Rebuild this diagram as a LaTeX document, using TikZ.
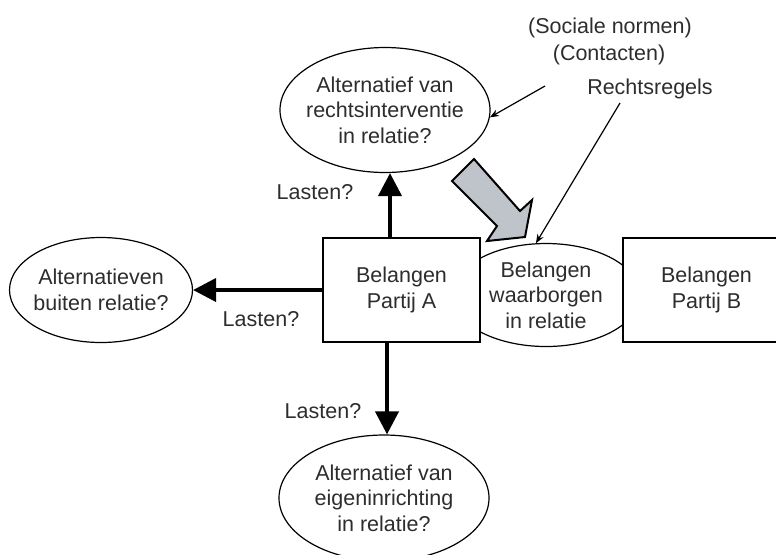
\documentclass[tikz,border=0pt]{standalone}
\usepackage{fontspec}
\setmainfont{Liberation Sans}
\usetikzlibrary{arrows.meta,shapes.geometric}
\definecolor{pijlgrijs}{RGB}{191,195,202}
\definecolor{tekstgrijs}{RGB}{45,45,45}

\begin{document}
\begin{tikzpicture}[x=0.5pt,y=-0.5pt,
  every node/.style={font=\fontsize{10.75}{12.75}\selectfont,text=tekstgrijs,align=center},
  bubble/.style={ellipse,draw,fill=white,line width=0.6pt,inner xsep=-5pt,inner ysep=0pt},
  box/.style={rectangle,draw,fill=white,line width=0.6pt,minimum height=52pt},
  heavy/.style={line width=2pt,-{Triangle[length=11.5pt,width=11.5pt]}},
  pointer/.style={line width=0.6pt,-{Stealth[length=4.5pt,width=3.5pt]}}]
\useasboundingbox (0,0) rectangle (776,554);

\node[bubble,minimum width=105pt,minimum height=62.5pt] (topE) at (385,110) {Alternatief van\\rechtsinterventie\\in relatie?};
\node[bubble,minimum width=91.5pt,minimum height=52.5pt] (leftE) at (101,290) {Alternatieven\\buiten relatie?};
\node[bubble,minimum width=94pt,minimum height=51.5pt] (midE) at (546,295) {Belangen\\waarborgen\\in relatie};
\node[bubble,minimum width=105pt,minimum height=63pt] (botE) at (384,498) {Alternatief van\\eigeninrichting\\in relatie?};
\node[box,minimum width=78.5pt] (partijA) at (401.5,290) {Belangen\\Partij A};
\node[box,minimum width=83.5pt] (partijB) at (706.5,290) {Belangen\\Partij B};

\node (lastenBoven) at (315,192) {Lasten?};
\node (lastenLinks) at (261,319) {Lasten?};
\node (lastenOnder) at (323,411) {Lasten?};

\node (sociaal) at (610,28) {(Sociale normen)};
\node (contact) at (609,55) {(Contacten)};
\node (regels) at (650,89) {Rechtsregels};
\coordinate (p1) at (545,86);
\coordinate (p2) at (620,103);

\coordinate (upA) at ([xshift=-5.75pt]partijA.north);
\coordinate (downA) at ([xshift=-7.25pt]partijA.south);

\draw[heavy] (partijA.west) -- (leftE.east);
\draw[heavy] (upA) -- (upA |- topE.south);
\draw[heavy] (downA) -- (downA |- botE.north);

\draw[pointer] (p1) -- (topE.-4);
\draw[pointer] (p2) -- (midE.101);

% grote grijze pijl
\draw[line width=1pt,fill=pijlgrijs,line join=miter] (474,159) -- (452,181) -- (497,226) -- (487,241) -- (525,237) -- (532,200) -- (520,211) -- cycle;
\end{tikzpicture}
\end{document}
